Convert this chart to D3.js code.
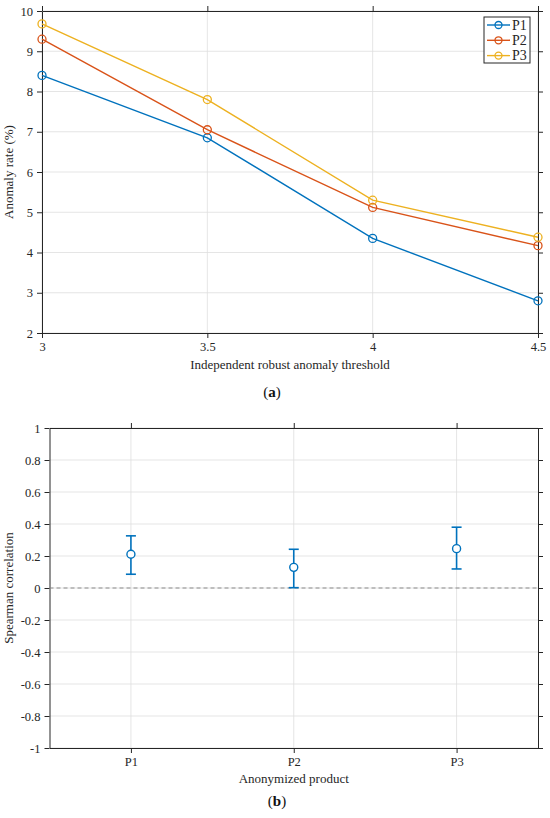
<!DOCTYPE html>
<html>
<head>
<meta charset="utf-8">
<script src="https://cdn.jsdelivr.net/npm/d3@7"></script>
<style>
  body { margin: 0; background: #fff; }
</style>
</head>
<body>
<svg id="fig" width="550" height="818" font-family="Liberation Serif"></svg>
<script>
// panel (a) data
const thresholds = [3, 3.5, 4, 4.5];
const p1Rate = [8.4, 6.85, 4.35, 2.8];
const p2Rate = [9.3, 7.05, 5.12, 4.17];
const p3Rate = [9.68, 7.8, 5.3, 4.38];
const seriesNames = ['P1', 'P2', 'P3'];
const rateTicks = [2, 3, 4, 5, 6, 7, 8, 9, 10];
const thresholdTicks = [3, 3.5, 4, 4.5];

// panel (b) data
const products = ['P1', 'P2', 'P3'];
const corrMean = [0.211, 0.129, 0.246];
const corrLow = [0.086, 0.002, 0.119];
const corrHigh = [0.326, 0.242, 0.38];
const corrTicks = [-1, -0.8, -0.6, -0.4, -0.2, 0, 0.2, 0.4, 0.6, 0.8, 1];

const colors = ['#0072BD', '#D95319', '#EDB120'];
const gridColor = '#dedede';
const axisColor = '#262626';
const serif = 'Liberation Serif';

// plain number labels with an ascii hyphen for negatives, like matlab
const numFmt = d => String(d);

const svg = d3.select('#fig');

// draws box, grid and outward ticks on all four sides
function drawFrame(g, x, y, xTicks, yTicks, xFmt, yFmt) {
    const [x0, x1] = x.range();
    const [y0, y1] = y.range();
    const tl = 5;

    g.append('g').selectAll('line').data(xTicks).enter().append('line')
        .attr('x1', d => x(d)).attr('x2', d => x(d))
        .attr('y1', y0).attr('y2', y1)
        .style('stroke', gridColor).style('stroke-width', 0.8);
    g.append('g').selectAll('line').data(yTicks).enter().append('line')
        .attr('x1', x0).attr('x2', x1)
        .attr('y1', d => y(d)).attr('y2', d => y(d))
        .style('stroke', gridColor).style('stroke-width', 0.8);

    const axes = [
        d3.axisBottom(x).tickValues(xTicks).tickFormat(xFmt),
        d3.axisTop(x).tickValues(xTicks).tickFormat(''),
        d3.axisLeft(y).tickValues(yTicks).tickFormat(yFmt),
        d3.axisRight(y).tickValues(yTicks).tickFormat('')
    ];
    const shifts = [`translate(0,${y0})`, `translate(0,${y1})`, `translate(${x0},0)`, `translate(${x1},0)`];
    axes.forEach((ax, i) => {
        const a = g.append('g')
            .attr('transform', shifts[i])
            .call(ax.tickSizeInner(tl).tickSizeOuter(0).tickPadding(4))
            .attr('font-family', serif)
            .attr('font-size', 12.5);
        a.select('.domain').style('stroke', axisColor).style('stroke-width', 1);
        a.selectAll('.tick line').style('stroke', axisColor).style('stroke-width', 1);
        a.selectAll('.tick text').style('fill', axisColor);
    });
}

function label(g, x, y, txt, rotate) {
    return g.append('text')
        .attr('transform', `translate(${x},${y})` + (rotate ? ' rotate(-90)' : ''))
        .attr('text-anchor', 'middle')
        .attr('font-family', serif)
        .attr('font-size', 13)
        .style('fill', axisColor)
        .text(txt);
}

function caption(g, x, y, letter) {
    const c = g.append('text')
        .attr('x', x).attr('y', y)
        .attr('text-anchor', 'middle')
        .attr('font-family', serif)
        .attr('font-size', 15)
        .style('fill', '#111');
    c.append('tspan').text('(');
    c.append('tspan').attr('font-weight', 'bold').text(letter);
    c.append('tspan').text(')');
}

// ---------- panel (a) ----------
const xa = d3.scaleLinear().domain([3, 4.5]).range([42, 538]);
const ya = d3.scaleLinear().domain([2, 10]).range([333, 11]);
const ga = svg.append('g');

drawFrame(ga, xa, ya, thresholdTicks, rateTicks, numFmt, numFmt);

const rates = [p1Rate, p2Rate, p3Rate];
const line = d3.line().x((d, i) => xa(thresholds[i])).y(d => ya(d));

rates.forEach((r, k) => {
    ga.append('path')
        .datum(r)
        .attr('d', line)
        .style('fill', 'none')
        .style('stroke', colors[k])
        .style('stroke-width', 1.4);
    ga.append('g').selectAll('circle').data(r).enter().append('circle')
        .attr('cx', (d, i) => xa(thresholds[i]))
        .attr('cy', d => ya(d))
        .attr('r', 4)
        .style('fill', 'none')
        .style('stroke', colors[k])
        .style('stroke-width', 1.3);
});

// legend
const lg = ga.append('g').attr('transform', 'translate(484,17)');
lg.append('rect').attr('width', 46).attr('height', 46)
    .style('fill', '#fff').style('stroke', axisColor).style('stroke-width', 1);
seriesNames.forEach((n, k) => {
    const yy = 8 + k * 15.3;
    lg.append('line').attr('x1', 3).attr('x2', 26).attr('y1', yy).attr('y2', yy)
        .style('stroke', colors[k]).style('stroke-width', 1.4);
    lg.append('circle').attr('cx', 14.5).attr('cy', yy).attr('r', 3.5)
        .style('fill', 'none').style('stroke', colors[k]).style('stroke-width', 1.3);
    lg.append('text').attr('x', 28).attr('y', yy + 4.5)
        .attr('font-family', serif).attr('font-size', 14)
        .style('fill', axisColor).text(n);
});

label(ga, (42 + 538) / 2, 369, 'Independent robust anomaly threshold');
label(ga, 13, 172, 'Anomaly rate (%)', true);
caption(ga, 272, 397, 'a');

// ---------- panel (b) ----------
const xb = d3.scaleLinear().domain([0.5, 3.5]).range([49.5, 538]);
const yb = d3.scaleLinear().domain([-1, 1]).range([748, 428]);
const gb = svg.append('g');

drawFrame(gb, xb, yb, [1, 2, 3], corrTicks, d => products[d - 1], numFmt);

gb.append('line')
    .attr('x1', xb(0.5)).attr('x2', xb(3.5))
    .attr('y1', yb(0)).attr('y2', yb(0))
    .style('stroke', '#8a8a8a').style('stroke-width', 1)
    .style('stroke-dasharray', '4,3');

const bars = gb.append('g').selectAll('g').data(products).enter().append('g');
bars.append('line')
    .attr('x1', (d, i) => xb(i + 1)).attr('x2', (d, i) => xb(i + 1))
    .attr('y1', (d, i) => yb(corrLow[i])).attr('y2', (d, i) => yb(corrHigh[i]))
    .style('stroke', colors[0]).style('stroke-width', 1.6);
[corrLow, corrHigh].forEach(arr => {
    bars.append('line')
        .attr('x1', (d, i) => xb(i + 1) - 5).attr('x2', (d, i) => xb(i + 1) + 5)
        .attr('y1', (d, i) => yb(arr[i])).attr('y2', (d, i) => yb(arr[i]))
        .style('stroke', colors[0]).style('stroke-width', 1.6);
});
bars.append('circle')
    .attr('cx', (d, i) => xb(i + 1))
    .attr('cy', (d, i) => yb(corrMean[i]))
    .attr('r', 4)
    .style('fill', '#fff')
    .style('stroke', colors[0]).style('stroke-width', 1.4);

label(gb, (49.5 + 538) / 2, 783, 'Anonymized product');
label(gb, 13, 588, 'Spearman correlation', true);
caption(gb, 277, 806, 'b');
</script>
</body>
</html>
